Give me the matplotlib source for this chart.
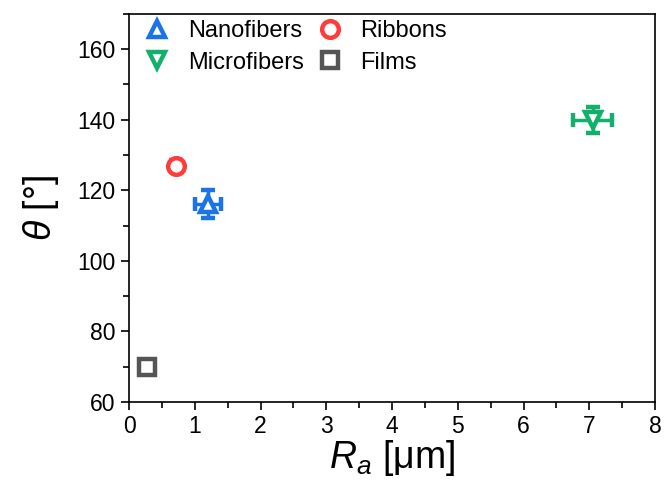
import numpy as np
import matplotlib.pyplot as plt
from matplotlib.ticker import MultipleLocator

plt.rcParams['font.family'] = ['Liberation Sans', 'DejaVu Sans']
plt.rcParams['mathtext.fontset'] = 'custom'
plt.rcParams['mathtext.it'] = 'Liberation Sans:italic'
plt.rcParams['mathtext.rm'] = 'Liberation Sans'

# sample data
labels = ['Nanofibers', 'Microfibers', 'Ribbons', 'Films']
ra = [1.2, 7.05, 0.71, 0.27]
ra_err = [0.2, 0.3, 0.05, 0.05]
theta = [116, 140, 127, 70]
theta_err = [4, 3.7, 1.5, 1.0]
markers = ['^', 'v', 'o', 's']
colors = ['#1a73e8', '#12b06b', '#ff3b3b', '#555555']

fig = plt.figure(figsize=(6.65, 4.92), dpi=100)
ax = fig.add_axes([0.194, 0.183, 0.791, 0.789])

for lab, x, xe, y, ye, m, c in zip(labels, ra, ra_err, theta, theta_err, markers, colors):
    ax.errorbar(x, y, xerr=xe, yerr=ye, fmt=m, ms=12, mfc='white', mec=c,
                mew=3.2, ecolor=c, elinewidth=2.5, capsize=5, capthick=2.5,
                label=lab)

ax.set_xlim(0, 8)
ax.set_ylim(60, 170)
ax.xaxis.set_major_locator(MultipleLocator(1))
ax.xaxis.set_minor_locator(MultipleLocator(0.5))
ax.yaxis.set_major_locator(MultipleLocator(20))
ax.yaxis.set_minor_locator(MultipleLocator(10))
ax.tick_params(which='major', direction='out', length=6, width=1.2, labelsize=16.5)
ax.tick_params(which='minor', direction='out', length=4, width=1.2)
for s in ax.spines.values():
    s.set_linewidth(1.2)

ax.set_xlabel(r'$R_a$ [μm]', fontsize=27, labelpad=0)
ax.set_ylabel(r'$\theta$ [°]', fontsize=27, labelpad=12)

handles, lbls = ax.get_legend_handles_labels()
handles = [h[0] for h in handles]
ax.legend(handles, lbls, ncol=2, frameon=False, loc='upper left',
          fontsize=17, handletextpad=0.7, columnspacing=0.5,
          borderaxespad=0.2, labelspacing=0.4, handlelength=1.2,
          bbox_to_anchor=(0.0, 1.02))

fig.savefig('out.png', dpi=100)
